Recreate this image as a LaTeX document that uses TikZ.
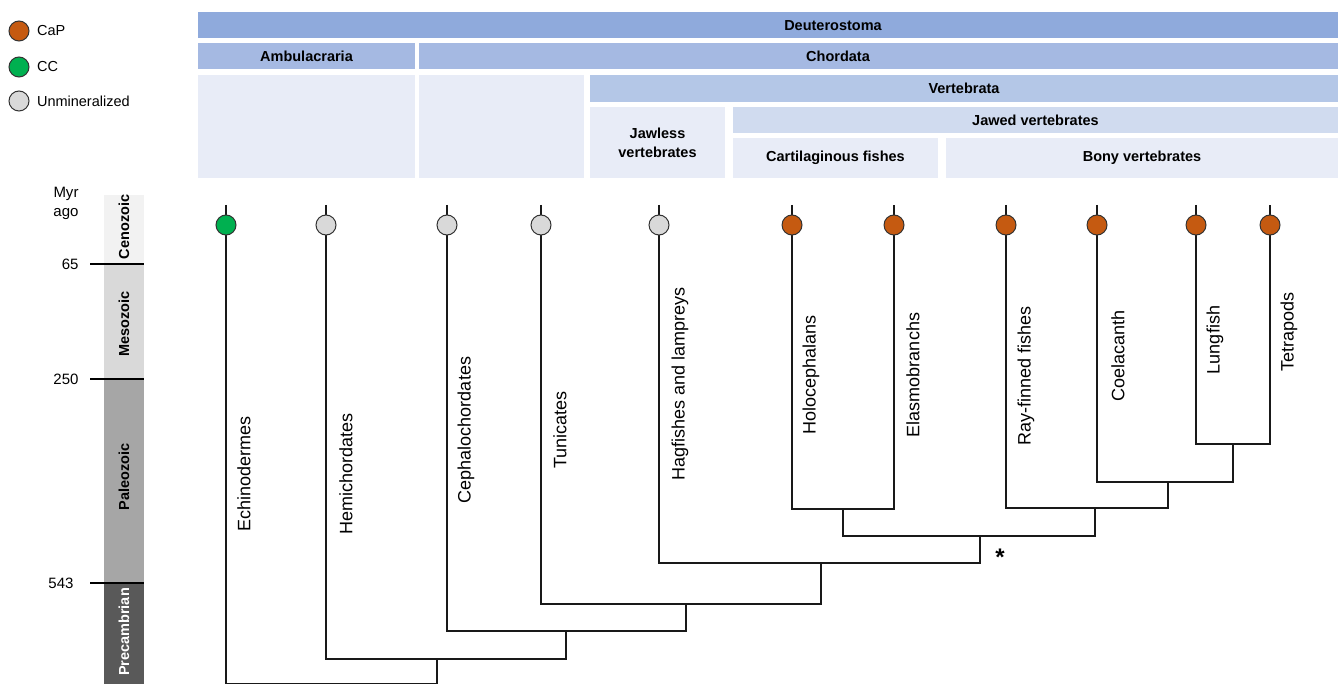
\documentclass[tikz,border=0pt]{standalone}
\usepackage{fontspec}
\setmainfont{Liberation Sans}
\usetikzlibrary{positioning}

\definecolor{deutcol}{HTML}{8FAADC}
\definecolor{chordcol}{HTML}{A5B9E2}
\definecolor{vertcol}{HTML}{B4C7E7}
\definecolor{jawcol}{HTML}{D0DBEF}
\definecolor{panecol}{HTML}{E8ECF7}
\definecolor{capcol}{HTML}{C55A11}
\definecolor{cccol}{HTML}{00B050}
\definecolor{unmincol}{HTML}{D9D9D9}
\definecolor{cenocol}{HTML}{F2F2F2}
\definecolor{mesocol}{HTML}{D9D9D9}
\definecolor{paleocol}{HTML}{A6A6A6}
\definecolor{precol}{HTML}{595959}

\tikzset{
  leafdot/.style={circle, draw=black!80, line width=1pt, minimum size=20pt, inner sep=0pt},
  capdot/.style={leafdot, fill=capcol},
  ccdot/.style={leafdot, fill=cccol},
  unmindot/.style={leafdot, fill=unmincol},
  legtext/.style={font=\fontsize{14.5}{17}\selectfont},
  band/.style={font=\fontsize{14.5}{19}\selectfont\bfseries},
  era/.style={rotate=90, font=\fontsize{14.5}{17}\selectfont\bfseries},
  taxon/.style={rotate=90, font=\fontsize{18}{21}\selectfont},
  branch/.style={line width=1.7pt, black!90},
}

\begin{document}
\begin{tikzpicture}[x=1pt, y=-1pt]
    \useasboundingbox (0,0) rectangle (1338,684);

    % Legend
    \node[capdot] (legcap) at (19,31) {};
    \node[legtext, right=4pt of legcap] (legcaptxt) {CaP};
    \node[ccdot] (legcc) at (19,67) {};
    \node[legtext, right=4pt of legcc] (legcctxt) {CC};
    \node[unmindot] (legunmin) at (19,101) {};
    \node[legtext, right=4pt of legunmin] (legunmintxt) {Unmineralized};

    % Clade bands
    \fill[deutcol] (198,12) rectangle (1338,38);
    \node[band] (deut) at (833,25.5) {Deuterostoma};
    \fill[chordcol] (198,43) rectangle (415,69);
    \node[band] (ambu) at (306.5,56) {Ambulacraria};
    \fill[chordcol] (419,43) rectangle (1338,69);
    \node[band] (chord) at (838,56) {Chordata};
    \fill[panecol] (198,75) rectangle (415,178);
    \fill[panecol] (419,75) rectangle (584,178);
    \fill[vertcol] (590,75) rectangle (1338,102);
    \node[band] (verte) at (964,88) {Vertebrata};
    \fill[panecol] (590,107) rectangle (725,178);
    \node[band, align=center] (jawless) at (657.5,142.5) {Jawless\\vertebrates};
    \fill[jawcol] (733,107) rectangle (1338,133);
    \node[band] (jawed) at (1035.5,120) {Jawed vertebrates};
    \fill[panecol] (733,138) rectangle (938,178);
    \node[band] (cartil) at (835.5,158) {Cartilaginous fishes};
    \fill[panecol] (946,138) rectangle (1338,178);
    \node[band] (bonyv) at (1142,158) {Bony vertebrates};

    % Time scale
    \node[font=\fontsize{15}{19}\selectfont, align=center] (myr) at (66,203) {Myr\\ago};
    \fill[cenocol] (104,195) rectangle (144,264);
    \fill[mesocol] (104,264) rectangle (144,379);
    \fill[paleocol] (104,379) rectangle (144,583);
    \fill[precol] (104,583) rectangle (144,684);
    \node[era] (ceno) at (124,227) {Cenozoic};
    \node[era] (meso) at (124,324) {Mesozoic};
    \node[era] (paleo) at (124,477) {Paleozoic};
    \node[era, white] (precamb) at (124,632) {Precambrian};
    \foreach \y/\t/\lx in {264/65/82, 379/250/82, 583/543/77} {
        \draw[line width=1.6pt] (90,\y) -- (144,\y);
        \node[anchor=east, font=\fontsize{15}{18}\selectfont] at (\lx,\y) {\t};
    }

    % Tree
    \coordinate (echT) at (226,205);
    \coordinate (hemiT) at (326,205);
    \coordinate (cephT) at (447,205);
    \coordinate (tunT) at (541,205);
    \coordinate (hagT) at (659,205);
    \coordinate (holoT) at (792,205);
    \coordinate (elasT) at (894,205);
    \coordinate (rayT) at (1006,205);
    \coordinate (coelT) at (1097,205);
    \coordinate (lungT) at (1196,205);
    \coordinate (tetraT) at (1270,205);
    \coordinate (lt) at (1233,444);
    \coordinate (clt) at (1168,482);
    \coordinate (bony) at (1095,508);
    \coordinate (cart) at (843,509);
    \coordinate (gnath) at (980,536);
    \coordinate (vert) at (821,563);
    \coordinate (olf) at (686,604);
    \coordinate (chordn) at (566,631);
    \coordinate (hemin) at (437,659);
    \coordinate (root) at (331,683.5);

    \draw[branch] (lungT) |- (lt) -| (tetraT);
    \draw[branch] (coelT) |- (clt) -| (lt);
    \draw[branch] (rayT) |- (bony) -| (clt);
    \draw[branch] (holoT) |- (cart) -| (elasT);
    \draw[branch] (cart) |- (gnath) -| (bony);
    \draw[branch] (hagT) |- (vert) -| (gnath);
    \draw[branch] (tunT) |- (olf) -| (vert);
    \draw[branch] (cephT) |- (chordn) -| (olf);
    \draw[branch] (hemiT) |- (hemin) -| (chordn);
    \draw[branch] (echT) |- (root) -| (hemin);
    \node[font=\fontsize{24}{24}\selectfont\bfseries] (star) at (1000,557) {*};

    % Leaves
    \node[ccdot] (ech) at (226,225) {};
    \node[unmindot] (hemi) at (326,225) {};
    \node[unmindot] (ceph) at (447,225) {};
    \node[unmindot] (tun) at (541,225) {};
    \node[unmindot] (hag) at (659,225) {};
    \node[capdot] (holo) at (792,225) {};
    \node[capdot] (elas) at (894,225) {};
    \node[capdot] (ray) at (1006,225) {};
    \node[capdot] (coel) at (1097,225) {};
    \node[capdot] (lung) at (1196,225) {};
    \node[capdot] (tetra) at (1270,225) {};

    % Taxon labels
    \node[taxon] (echlab) at (244,474) {Echinodermes};
    \node[taxon] (hemilab) at (346,474) {Hemichordates};
    \node[taxon] (cephlab) at (466,430) {Cephalochordates};
    \node[taxon] (tunlab) at (560,430) {Tunicates};
    \node[taxon] (haglab) at (680,384) {Hagfishes and lampreys};
    \node[taxon] (hololab) at (811,375) {Holocephalans};
    \node[taxon] (elaslab) at (913,375) {Elasmobranchs};
    \node[taxon] (raylab) at (1026,376) {Ray-finned fishes};
    \node[taxon] (coellab) at (1118,356) {Coelacanth};
    \node[taxon] (lunglab) at (1215,340) {Lungfish};
    \node[taxon] (tetralab) at (1289,332) {Tetrapods};
\end{tikzpicture}
\end{document}
